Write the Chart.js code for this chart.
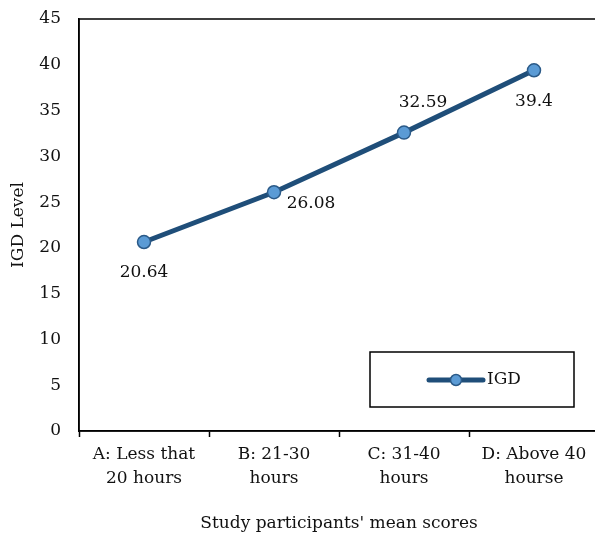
<!DOCTYPE html>
<html>
<head>
<meta charset="utf-8">
<script src="https://cdn.jsdelivr.net/npm/chart.js@4"></script>
<style>
  html, body { margin: 0; padding: 0; background: #fff; overflow: hidden; }
  #wrap { width: 610px; height: 535px; }
</style>
</head>
<body>
<div id="wrap"><canvas id="myChart"></canvas></div>
<script>
let categories = [
  ['A: Less that', '20 hours'],
  ['B: 21-30', 'hours'],
  ['C: 31-40', 'hours'],
  ['D: Above 40', 'hourse']
];
let seriesName = 'IGD';
let igdValues = [20.64, 26.08, 32.59, 39.4];
let yTicks = [0, 5, 10, 15, 20, 25, 30, 35, 40, 45];
let labelSpots = ['below', 'right', 'aboveRight', 'below'];

let lineColor = '#1F4E79';
let dotColor = '#5B9BD5';
let dotBorder = '#2B5A88';
let fontName = '"DejaVu Serif", "Liberation Serif", serif';

// value labels next to each point
let pointLabels = {
  id: 'pointLabels',
  afterDatasetsDraw(chart) {
    const ctx = chart.ctx;
    const meta = chart.getDatasetMeta(0);
    ctx.save();
    ctx.font = '17px ' + fontName;
    ctx.fillStyle = '#111';
    ctx.textAlign = 'center';
    ctx.textBaseline = 'middle';
    meta.data.forEach((pt, i) => {
      let x = pt.x, y = pt.y;
      let spot = labelSpots[i];
      if (spot === 'below') { y += 31; }
      else if (spot === 'right') { x += 37; y += 11; }
      else if (spot === 'aboveRight') { x += 19; y -= 30; }
      ctx.fillText(String(igdValues[i]), x, y);
    });
    ctx.restore();
  }
};

// plot border + boxed legend inside the plot
let plotFrame = {
  id: 'plotFrame',
  afterDraw(chart) {
    const ctx = chart.ctx;
    const a = chart.chartArea;
    ctx.save();
    ctx.strokeStyle = '#000';
    ctx.lineWidth = 1.5;
    ctx.strokeRect(a.left, a.top, a.right - a.left, a.bottom - a.top);

    let bx = a.right - 229, by = a.bottom - 79, bw = 204, bh = 55;
    ctx.strokeRect(bx, by, bw, bh);
    let cy = by + 28;
    ctx.strokeStyle = lineColor;
    ctx.lineWidth = 5;
    ctx.lineCap = 'round';
    ctx.beginPath();
    ctx.moveTo(bx + 59, cy);
    ctx.lineTo(bx + 113, cy);
    ctx.stroke();
    ctx.beginPath();
    ctx.arc(bx + 86, cy, 5.5, 0, Math.PI * 2);
    ctx.fillStyle = dotColor;
    ctx.fill();
    ctx.lineWidth = 1.5;
    ctx.strokeStyle = dotBorder;
    ctx.stroke();
    ctx.fillStyle = '#111';
    ctx.font = '17px ' + fontName;
    ctx.textAlign = 'left';
    ctx.textBaseline = 'middle';
    ctx.fillText(seriesName, bx + 117, cy);
    ctx.restore();
  }
};

let hdt = document.getElementById('myChart');
let myChart = new Chart(hdt, {
  type: 'line',
  data: {
    labels: categories,
    datasets: [{
      label: seriesName,
      data: igdValues,
      borderColor: lineColor,
      borderWidth: 5,
      pointRadius: 6.5,
      pointBackgroundColor: dotColor,
      pointBorderColor: dotBorder,
      pointBorderWidth: 1.5,
      tension: 0,
      clip: false
    }]
  },
  options: {
    responsive: true,
    maintainAspectRatio: false,
    animation: false,
    layout: { padding: { top: 19, right: 11, left: 0, bottom: 0 } },
    plugins: {
      legend: { display: false },
      tooltip: { enabled: false }
    },
    scales: {
      x: {
        offset: true,
        afterFit(scale) { scale.height = 104; },
        grid: {
          offset: true,
          drawOnChartArea: false,
          tickLength: 6,
          tickColor: '#000',
          tickWidth: 1.5
        },
        border: { color: '#000', width: 1.5 },
        ticks: {
          color: '#111',
          padding: 6,
          maxRotation: 0,
          autoSkip: false,
          font: { family: fontName, size: 17, lineHeight: 1.4 }
        },
        title: {
          display: true,
          text: "Study participants' mean scores",
          color: '#111',
          padding: { top: 0, bottom: 1 },
          font: { family: fontName, size: 17 }
        }
      },
      y: {
        min: 0,
        max: 45,
        afterFit(scale) { scale.width = 79; scale.paddingTop = 0; scale.paddingBottom = 0; },
        afterBuildTicks(scale) { scale.ticks = yTicks.map(v => ({ value: v })); },
        grid: { display: false, drawTicks: false },
        border: { color: '#000', width: 1.5 },
        ticks: {
          color: '#111',
          padding: 18,
          font: { family: fontName, size: 17 }
        },
        title: {
          display: true,
          text: 'IGD Level',
          color: '#111',
          padding: { top: 8, bottom: 0 },
          font: { family: fontName, size: 17 }
        }
      }
    }
  },
  plugins: [pointLabels, plotFrame]
});
</script>
</body>
</html>
